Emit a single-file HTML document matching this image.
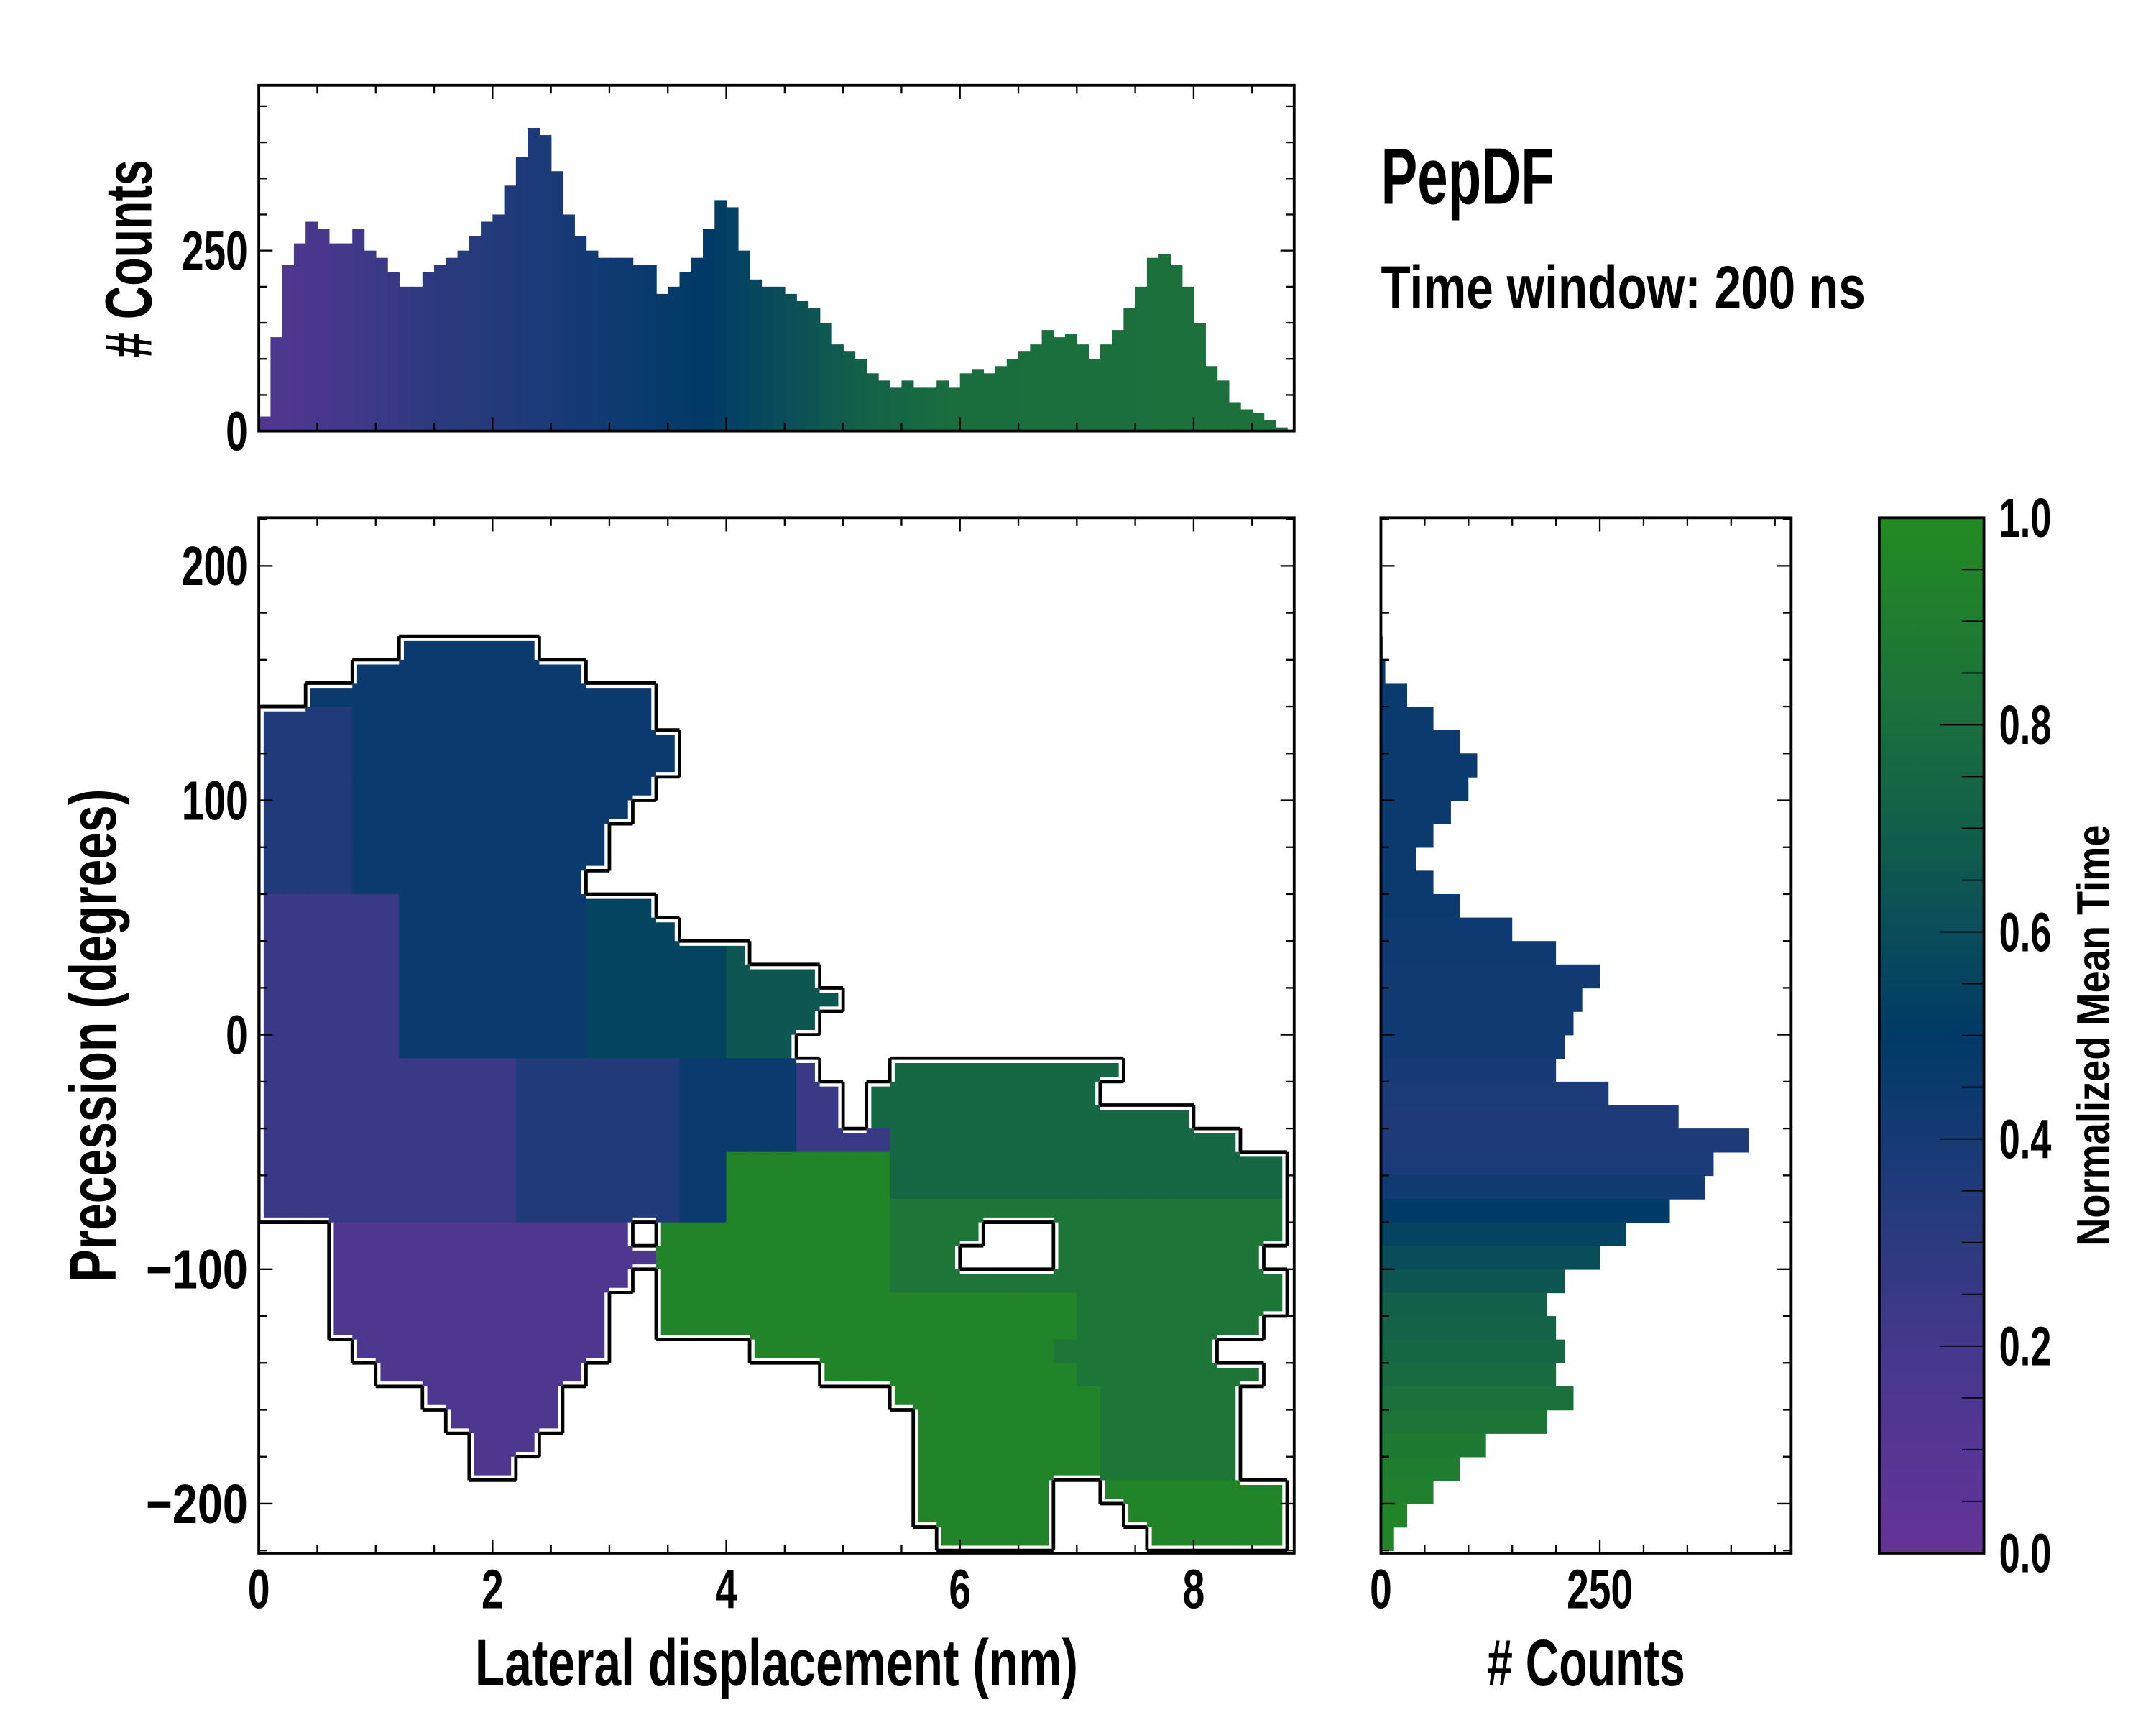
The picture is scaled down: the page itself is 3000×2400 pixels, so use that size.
<!DOCTYPE html>
<html><head><meta charset="utf-8"><style>
html,body{margin:0;padding:0;background:#fff}
svg{display:block}
text{font-family:"Liberation Sans Narrow","Liberation Sans",sans-serif;font-weight:bold;fill:#000}
</style></head><body>
<svg id="fig" xmlns="http://www.w3.org/2000/svg" width="3000" height="2400" viewBox="0 0 1566 1252.8" preserveAspectRatio="none">
<defs>
<linearGradient id="cbgrad" x1="0" y1="1" x2="0" y2="0">
<stop offset="0" stop-color="#663399"/><stop offset="0.2" stop-color="#45388c"/><stop offset="0.3" stop-color="#2c3a7e"/><stop offset="0.4" stop-color="#153a76"/><stop offset="0.5" stop-color="#003a66"/><stop offset="0.6" stop-color="#0a4d5a"/><stop offset="0.7" stop-color="#125f4a"/><stop offset="0.8" stop-color="#1a6e3e"/><stop offset="0.9" stop-color="#1f7d30"/><stop offset="1" stop-color="#228b22"/>
</linearGradient>
</defs>
<g id="top"></g>
<g id="main"></g>
<g id="right"></g>
<g id="cb">
<rect x="1365" y="376" width="76" height="752" fill="url(#cbgrad)" stroke="#000" stroke-width="2"/>
</g>
<text x="1003" y="148" font-size="58" textLength="126" lengthAdjust="spacingAndGlyphs">PepDF</text>
<text x="1003" y="224" font-size="44" textLength="352" lengthAdjust="spacingAndGlyphs">Time window: 200 ns</text>
<text x="564" y="1224" font-size="48" text-anchor="middle" textLength="438" lengthAdjust="spacingAndGlyphs">Lateral displacement (nm)</text>
<text x="1152" y="1224" font-size="48" text-anchor="middle" textLength="144" lengthAdjust="spacingAndGlyphs"># Counts</text>
<text transform="translate(84,752) rotate(-90)" font-size="48" text-anchor="middle" textLength="358" lengthAdjust="spacingAndGlyphs">Precession (degrees)</text>
<text transform="translate(110,188) rotate(-90)" font-size="48" text-anchor="middle" textLength="144" lengthAdjust="spacingAndGlyphs"># Counts</text>
<text transform="translate(1532,752) rotate(-90)" font-size="34" text-anchor="middle" textLength="306" lengthAdjust="spacingAndGlyphs">Normalized Mean Time</text>
</svg>
<script>
// ---- data ----
const topBinStart = 0.0;
const topBinWidth = 0.1;
const topCounts = [20,130,230,260,290,280,260,260,280,250,240,220,200,200,220,230,240,250,270,290,300,340,380,420,410,360,300,270,250,240,240,240,230,230,190,200,220,240,280,320,310,250,210,200,200,190,180,170,150,120,110,100,80,70,60,70,60,60,70,60,80,85,80,90,100,110,120,140,130,135,120,100,120,140,170,200,240,245,230,200,150,90,70,40,30,25,15,5,2];
const rightBinTop = [170,160,150,140,130,120,110,100,90,80,70,60,50,40,30,20,10,0,-10,-20,-30,-40,-50,-60,-70,-80,-90,-100,-110,-120,-130,-140,-150,-160,-170,-180,-190,-200,-210];
const rightCounts = [2,5,30,60,90,110,100,80,60,40,60,90,150,200,250,230,220,210,200,260,340,420,380,370,330,280,250,210,190,200,210,200,220,190,120,90,60,30,15];
const rightValues = [0.45,0.45,0.45,0.45,0.45,0.45,0.45,0.45,0.45,0.45,0.45,0.45,0.44,0.43,0.42,0.42,0.42,0.42,0.4,0.38,0.36,0.36,0.38,0.42,0.5,0.55,0.6,0.65,0.7,0.72,0.75,0.78,0.82,0.85,0.88,0.9,0.92,0.95,0.95];
// heatmap: cell = 0.2 nm x 10 deg, top row starts at 170 deg; digit = value*10 ('.' empty)
const hmX0 = 0, hmDx = 0.2, hmY0 = 170, hmDy = 10;
const hmRows = [
"......444444",
"....4444444444",
"..444444444444444",
"33334444444444444",
"333344444444444444",
"333344444444444444",
"33334444444444444",
"3333444444444444",
"333344444444444",
"333344444444444",
"33334444444444",
"22222244444444555",
"222222444444445555",
"222222444444445555556",
"222222444444445555556666",
"2222224444444455555566666",
"222222444444445555556666",
"22222244444444555555666",
"222222222223333333444442...7777777777",
"2222222222233333334444422.7777777777",
"2222222222233333334444422.77777777777777",
"222222222223333333444442222777777777777777",
"22222222222333333344999999977777777777777777",
"22222222222333333344999999977777777777777777",
"22222222222333333344999999988888888888888888",
"...1111111111111.99999999998888...8888888888",
"...111111111111119999999999888....888888888",
"...1111111111111.9999999999888888888888888888",
"...111111111111..999999999999999999888888888",
"...111111111111..99999999999999999988888888.",
"....11111111111......99999999999998888888.",
".....111111111..........9999999999988888888.",
".......111111..............999999999888888..",
"........11111...............99999999888888..",
".........111................99999999888888..",
".........11.................99999999888888..",
"............................999999..99999999",
"............................999999...9999999",
".............................99999....999999"
];
const cbTicks = [0,0.2,0.4,0.6,0.8,1.0];
const mainXTicks = [0,2,4,6,8];
const mainYTicks = [-200,-100,0,100,200];
const topYTicks = [0,250];
const rightXTicks = [0,250];

// ---- helpers ----
const NS="http://www.w3.org/2000/svg";
function mk(tag,attrs,parent){const e=document.createElementNS(NS,tag);for(const k in attrs)e.setAttribute(k,attrs[k]);parent.appendChild(e);return e;}
const stops=[[0,[0x66,0x33,0x99]],[0.2,[0x45,0x38,0x8c]],[0.3,[0x2c,0x3a,0x7e]],[0.4,[0x15,0x3a,0x76]],[0.5,[0x00,0x3a,0x66]],[0.6,[0x0a,0x4d,0x5a]],[0.7,[0x12,0x5f,0x4a]],[0.8,[0x1a,0x6e,0x3e]],[0.9,[0x1f,0x7d,0x30]],[1,[0x22,0x8b,0x22]]];
function cmap(v){v=Math.max(0,Math.min(1,v));for(let i=1;i<stops.length;i++){if(v<=stops[i][0]){const a=stops[i-1],b=stops[i];const t=(v-a[0])/(b[0]-a[0]);const c=a[1].map((x,j)=>Math.round(x+(b[1][j]-x)*t));return `rgb(${c[0]},${c[1]},${c[2]})`;}}return "rgb(34,139,34)";}
const X0=188,X1=940;
const xs=v=>X0+(v-0)*(867-188)/8;
const ys=v=>411+(200-v)*(1092-411)/400;
const MY0=376,MY1=1128;
const TY0=62,TY1=313;
const ty=c=>313-c*(313-182)/250;
const RX0=1003,RX1=1301;
const rx=c=>1003+c*(1162-1003)/250;
function xColor(x){
  const pts=[[0,0.12],[1.5,0.3],[2.5,0.38],[3.8,0.5],[4.6,0.62],[5.2,0.72],[6,0.8],[9,0.82]];
  for(let i=1;i<pts.length;i++){if(x<=pts[i][0]){const t=(x-pts[i-1][0])/(pts[i][0]-pts[i-1][0]);return cmap(pts[i-1][1]+(pts[i][1]-pts[i-1][1])*t);}}return cmap(0.82);
}
function ticks(g,dir,pos,from,to,major,minor,len,lmin,scale,lo,hi){
  for(let v=lo;v<=hi+1e-9;v+=minor){
    const isMaj=Math.abs(v/major-Math.round(v/major))<1e-6;const L=isMaj?len:lmin;const p=scale(v);
    if(dir==='b'){mk('line',{x1:p,y1:to,x2:p,y2:to-L,stroke:'#000','stroke-width':1.2},g);mk('line',{x1:p,y1:from,x2:p,y2:from+L,stroke:'#000','stroke-width':1.2},g);}
    else{mk('line',{x1:from,y1:p,x2:from+L,y2:p,stroke:'#000','stroke-width':1.2},g);mk('line',{x1:to,y1:p,x2:to-L,y2:p,stroke:'#000','stroke-width':1.2},g);}
  }
}
function label(g,x,y,txt,anchor,name){
  let w=0;for(const ch of txt){w+=(ch==='.')?6:(ch==='\u2212'?26:16);}
  const t=mk('text',{x:x,y:y,'font-size':40,'text-anchor':anchor,textLength:w,lengthAdjust:'spacingAndGlyphs'},g);
  t.textContent=txt;
  
  
  return t;
}

// ---- top histogram ----
const gt=document.getElementById('top');
topCounts.forEach((c,i)=>{
  const x0=topBinStart+i*topBinWidth;
  const r=mk('rect',{x:xs(x0),y:ty(c),width:Math.max(0,Math.min(xs(x0+topBinWidth),X1)-xs(x0))+0.4,height:TY1-ty(c),fill:xColor(x0+topBinWidth/2)},gt);
  
  
});
ticks(gt,'b',TY0,TY0,TY1,2,0.5,10,6,xs,0,8.5);
ticks(gt,'l',ty(0),X0,X1,250,50,10,6,ty,0,450);
mk('rect',{x:X0,y:TY0,width:X1-X0,height:TY1-TY0,fill:'none',stroke:'#000','stroke-width':2},gt);
topYTicks.forEach(v=>{label(gt,X0-8,ty(v)+14,String(v),'end','top-y-tick-label');});

// ---- main heatmap ----
const gm=document.getElementById('main');
const grid=hmRows.map(r=>(r+".".repeat(44)).slice(0,44));
const filled=(j,i)=>j>=0&&j<grid.length&&i>=0&&i<44&&grid[j][i]!=='.';
grid.forEach((row,j)=>{
  for(let i=0;i<44;i++){
    if(row[i]==='.')continue;
    const v=parseInt(row[i])/10;
    const x0=hmX0+i*hmDx, yTop=hmY0-j*hmDy;
    const r=mk('rect',{x:xs(x0),y:ys(yTop),width:xs(x0+hmDx)-xs(x0)+0.5,height:ys(yTop-hmDy)-ys(yTop)+0.5,fill:cmap(v+0.05)},gm);
    
    
  }
});
let d='';
grid.forEach((row,j)=>{
  for(let i=0;i<44;i++){
    if(!filled(j,i))continue;
    const xa=xs(hmX0+i*hmDx),xb=xs(hmX0+(i+1)*hmDx),ya=ys(hmY0-j*hmDy),yb=ys(hmY0-(j+1)*hmDy);
    if(!filled(j-1,i))d+=`M${xa},${ya}H${xb}`;
    if(!filled(j+1,i))d+=`M${xa},${yb}H${xb}`;
    if(!filled(j,i-1))d+=`M${xa},${ya}V${yb}`;
    if(!filled(j,i+1))d+=`M${xb},${ya}V${yb}`;
  }
});
const clip=mk('clipPath',{id:'mclip'},gm);mk('rect',{x:X0,y:MY0,width:X1-X0,height:MY1-MY0},clip);
const ow=mk('path',{d:d,fill:'none',stroke:'#fff','stroke-width':7,'clip-path':'url(#mclip)'},gm);


const ob=mk('path',{d:d,fill:'none',stroke:'#000','stroke-width':2.5,'clip-path':'url(#mclip)'},gm);


ticks(gm,'b',MY0,MY0,MY1,2,0.5,10,6,xs,0,8.5);
ticks(gm,'l',0,X0,X1,100,20,10,6,ys,-220,220);
mk('rect',{x:X0,y:MY0,width:X1-X0,height:MY1-MY0,fill:'none',stroke:'#000','stroke-width':2},gm);
mainXTicks.forEach(v=>label(gm,xs(v),1168,String(v),'middle','x-tick-label'));
mainYTicks.forEach(v=>label(gm,X0-8,ys(v)+14,v<0?'\u2212'+Math.abs(v):String(v),'end','y-tick-label'));

// ---- right histogram ----
const gr=document.getElementById('right');
rightCounts.forEach((c,i)=>{
  const yt=rightBinTop[i];
  const r=mk('rect',{x:RX0,y:ys(yt),width:rx(c)-RX0,height:ys(yt-10)-ys(yt)+0.4,fill:cmap(rightValues[i])},gr);
  
  
});
ticks(gr,'b',MY0,MY0,MY1,250,50,10,6,rx,0,450);
ticks(gr,'l',0,RX0,RX1,100,20,10,6,ys,-220,220);
mk('rect',{x:RX0,y:MY0,width:RX1-RX0,height:MY1-MY0,fill:'none',stroke:'#000','stroke-width':2},gr);
rightXTicks.forEach(v=>label(gr,rx(v),1168,String(v),'middle','right-x-tick-label'));

// ---- colorbar ticks ----
const gc=document.getElementById('cb');
const cy=v=>1128-v*752;
for(let v=0;v<=1.0001;v+=0.05){const maj=Math.abs(v*5-Math.round(v*5))<1e-6;mk('line',{x1:1441,y1:cy(v),x2:1441-(maj?32:16),y2:cy(v),stroke:'#000','stroke-width':1},gc);}
cbTicks.forEach(v=>label(gc,1452,cy(v)+14,v.toFixed(1),'start','colorbar-tick-label'));
</script>
</body></html>
